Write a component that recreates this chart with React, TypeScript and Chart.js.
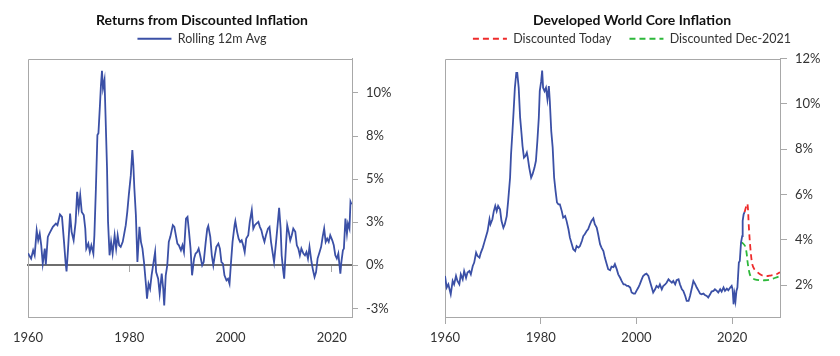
import React, { useEffect, useRef } from 'react';
import { Chart, registerables } from 'chart.js';
Chart.register(...registerables);

const FONT = "Lato, 'Open Sans', sans-serif";
const BLUE = '#3b50a6';
const RED = '#ee2b2b';
const GREEN = '#2db83a';
const GRID = '#a8a8a8';
const TEXT = '#333333';

// ---- Left chart: Returns from Discounted Inflation ----
const returnYears = [
  1960.0, 1960.2, 1960.6, 1961.0, 1961.3, 1961.7, 1962.0, 1962.3, 1962.6, 1962.9,
  1963.3, 1963.5, 1963.9, 1964.2, 1964.9, 1965.5, 1965.8, 1966.3, 1966.7, 1967.1,
  1967.4, 1967.6, 1967.9, 1968.3, 1968.6, 1969.0, 1969.4, 1969.7, 1970.0, 1970.3,
  1970.6, 1971.0, 1971.3, 1971.5, 1971.9, 1972.2, 1972.5, 1972.9, 1973.1, 1973.4,
  1973.7, 1973.9, 1974.2, 1974.4, 1974.6, 1974.8, 1975.1, 1975.3, 1975.6, 1975.8,
  1976.1, 1976.4, 1976.7, 1977.1, 1977.4, 1977.7, 1978.0, 1978.3, 1978.7, 1979.0,
  1979.3, 1979.6, 1979.9, 1980.3, 1980.6, 1980.8, 1981.0, 1981.3, 1981.6, 1982.0,
  1982.3, 1982.6, 1982.9, 1983.3, 1983.5, 1983.8, 1984.1, 1984.4, 1984.7, 1985.1,
  1985.3, 1985.7, 1986.0, 1986.4, 1986.7, 1986.9, 1987.2, 1987.5, 1987.8, 1988.1,
  1988.6, 1988.9, 1989.2, 1989.5, 1989.8, 1990.2, 1990.5, 1990.8, 1991.2, 1991.5,
  1991.8, 1992.1, 1992.4, 1992.8, 1993.1, 1993.4, 1993.7, 1994.0, 1994.4, 1994.7,
  1995.1, 1995.4, 1995.6, 1996.0, 1996.3, 1996.6, 1996.9, 1997.2, 1997.6, 1997.9,
  1998.2, 1998.5, 1998.8, 1999.2, 1999.5, 1999.8, 2000.1, 2000.4, 2000.8, 2000.95,
  2001.3, 2001.6, 2001.9, 2002.2, 2002.5, 2002.8, 2003.1, 2003.5, 2003.8, 2004.2,
  2004.5, 2004.8, 2005.1, 2005.5, 2005.8, 2006.1, 2006.4, 2006.7, 2007.0, 2007.4,
  2007.7, 2008.0, 2008.3, 2008.6, 2009.0, 2009.3, 2009.6, 2009.9, 2010.1, 2010.4,
  2010.6, 2011.0, 2011.2, 2011.5, 2011.8, 2012.1, 2012.4, 2012.8, 2013.1, 2013.4,
  2013.7, 2014.0, 2014.4, 2014.7, 2015.0, 2015.3, 2015.6, 2016.0, 2016.3, 2016.6,
  2016.9, 2017.2, 2017.6, 2017.9, 2018.2, 2018.5, 2018.8, 2019.1, 2019.4, 2019.7,
  2020.1, 2020.4, 2020.7, 2021.0, 2021.3, 2021.7, 2021.9, 2022.2, 2022.4, 2022.7,
  2023.0, 2023.2, 2023.5, 2023.7, 2023.9,
];
const returnValues = [
  0.70, 0.58, 0.39, 0.87, 0.58, 2.03, 1.45, 1.84, 1.16, 0.10,
  0.97, 0.04, 1.65, 1.84, 2.23, 2.42, 2.33, 2.95, 2.81, 1.36,
  0.19, -0.35, 0.97, 3.00, 1.94, 1.45, 2.52, 4.26, 3.29, 4.07,
  3.10, 2.91, 2.13, 0.97, 1.26, 0.77, 1.16, 0.68, 1.74, 4.46,
  7.56, 7.66, 9.30, 10.47, 11.28, 10.27, 10.76, 8.72, 5.62, 2.52,
  0.58, 1.36, 0.68, 1.74, 0.97, 1.74, 1.16, 1.07, 1.36, 1.84,
  2.33, 3.10, 4.07, 5.23, 6.69, 5.81, 4.46, 2.91, 0.19, 2.23,
  1.36, 0.97, 0.19, -1.16, -1.94, -1.07, -1.36, -0.58, 0.00, 0.77,
  -0.39, -0.78, -1.65, -0.48, -1.36, -2.33, -0.58, 0.00, 1.36, 1.65,
  2.33, 2.23, 1.74, 1.26, 1.16, 0.87, 1.16, 0.77, 2.71, 2.81,
  1.94, 0.97, -0.58, 0.39, 0.68, 0.77, 0.97, 0.58, 0.00, 0.19,
  1.36, 2.13, 2.29, 1.65, 0.58, 0.00, 0.58, 1.07, 1.26, 0.97,
  0.19, 0.10, -0.58, -0.87, -0.78, -1.07, 0.19, 1.36, 2.33, 2.56,
  1.94, 1.55, 1.36, 1.45, 1.16, 0.77, 1.55, 1.74, 2.52, 3.20,
  2.13, 2.33, 2.42, 2.52, 2.23, 2.03, 1.65, 1.36, 1.74, 2.13,
  2.23, 1.36, 0.77, 0.19, 1.36, 2.33, 3.33, 2.13, 0.58, -0.29,
  -0.78, 1.36, 2.33, 1.94, 1.45, 1.74, 2.13, 1.94, 1.16, 0.97,
  0.58, 0.97, 0.68, 0.58, 0.77, 0.39, 1.07, 0.19, -0.29, -0.68,
  -0.39, 0.39, 0.77, 1.07, 1.65, 2.13, 1.36, 1.55, 1.36, 1.74,
  1.45, 1.16, 0.58, 0.39, 0.68, -0.48, 0.19, 0.87, 0.97, 2.71,
  1.84, 2.42, 2.13, 3.68, 3.53,
];
const returnTickValues = [-2.5, 0, 2.5, 5, 7.5, 10];
const returnTickLabels = ['-3%', '0%', '3%', '5%', '8%', '10%'];

// ---- Right chart: Developed World Core Inflation ----
const coreYears = [
  1960.0, 1960.35, 1960.7, 1961.2, 1961.6, 1961.9, 1962.3, 1962.6, 1963.0, 1963.3,
  1963.7, 1964.0, 1964.4, 1964.7, 1965.1, 1965.4, 1965.8, 1966.1, 1966.5, 1966.8,
  1967.2, 1967.5, 1967.9, 1968.2, 1968.6, 1968.9, 1969.3, 1969.5, 1969.9, 1970.2,
  1970.5, 1970.8, 1971.1, 1971.5, 1971.8, 1972.2, 1972.5, 1972.9, 1973.2, 1973.6,
  1973.8, 1974.1, 1974.3, 1974.6, 1974.9, 1975.1, 1975.4, 1975.7, 1976.0, 1976.2,
  1976.5, 1976.8, 1977.1, 1977.3, 1977.6, 1978.0, 1978.3, 1978.7, 1979.0, 1979.3,
  1979.6, 1979.8, 1980.1, 1980.3, 1980.5, 1980.8, 1981.1, 1981.4, 1981.7, 1981.9,
  1982.2, 1982.5, 1982.8, 1983.1, 1983.4, 1983.7, 1984.0, 1984.4, 1984.7, 1985.1,
  1985.4, 1985.8, 1986.1, 1986.5, 1986.8, 1987.2, 1987.5, 1987.9, 1988.2, 1988.6,
  1988.9, 1989.2, 1989.6, 1989.9, 1990.3, 1990.6, 1991.0, 1991.3, 1991.7, 1992.0,
  1992.4, 1992.7, 1993.1, 1993.4, 1993.8, 1994.1, 1994.5, 1994.8, 1995.2, 1995.5,
  1995.9, 1996.2, 1996.6, 1996.9, 1997.3, 1997.6, 1998.0, 1998.3, 1998.7, 1999.0,
  1999.4, 1999.7, 2000.0, 2000.4, 2000.7, 2001.1, 2001.4, 2001.8, 2002.1, 2002.5,
  2002.8, 2003.2, 2003.5, 2003.9, 2004.2, 2004.6, 2004.9, 2005.3, 2005.6, 2006.0,
  2006.3, 2006.7, 2007.0, 2007.4, 2007.7, 2008.1, 2008.4, 2008.8, 2009.1, 2009.5,
  2009.8, 2010.2, 2010.5, 2010.9, 2011.2, 2011.6, 2011.9, 2012.3, 2012.6, 2013.0,
  2013.3, 2013.6, 2014.0, 2014.3, 2014.7, 2015.0, 2015.4, 2015.7, 2016.1, 2016.4,
  2016.8, 2017.1, 2017.5, 2017.8, 2018.2, 2018.5, 2018.9, 2019.2, 2019.6, 2019.9,
  2020.1, 2020.3, 2020.5, 2020.7, 2020.9, 2021.1, 2021.4, 2021.6, 2021.85, 2022.1,
  2022.2, 2022.4, 2022.6,
];
const coreValues = [
  2.41, 1.90, 2.04, 1.60, 2.19, 2.04, 2.41, 2.19, 2.04, 2.48,
  2.26, 2.63, 2.33, 2.56, 2.63, 2.48, 2.85, 3.00, 3.44, 3.29,
  3.22, 3.44, 3.66, 3.88, 4.17, 4.39, 4.91, 4.69, 4.91, 5.27,
  5.50, 5.27, 5.50, 5.35, 4.84, 4.54, 4.69, 5.05, 5.72, 6.75,
  7.78, 8.80, 9.54, 10.71, 11.37, 11.37, 10.71, 9.39, 8.66, 8.14,
  7.63, 7.70, 7.85, 7.63, 7.19, 6.75, 6.90, 7.19, 7.49, 8.36,
  9.39, 10.56, 11.00, 11.47, 10.71, 10.56, 10.71, 10.20, 10.78, 10.12,
  8.80, 8.07, 6.75, 6.16, 5.65, 5.57, 5.57, 5.27, 4.98, 5.05,
  4.84, 4.47, 4.10, 3.81, 3.59, 3.51, 3.73, 3.66, 3.73, 3.95,
  4.17, 4.25, 4.39, 4.47, 4.69, 4.84, 4.95, 4.69, 4.54, 4.25,
  3.81, 3.66, 3.51, 3.22, 2.93, 2.71, 2.66, 2.82, 2.80, 2.93,
  2.70, 2.48, 2.33, 2.19, 2.04, 2.04, 1.97, 1.97, 1.90, 1.68,
  1.63, 1.63, 1.75, 1.90, 2.04, 2.26, 2.41, 2.48, 2.51, 2.41,
  2.19, 1.90, 1.68, 1.82, 1.97, 1.90, 2.04, 1.82, 1.97, 2.04,
  2.11, 2.26, 2.19, 2.11, 2.19, 2.04, 2.22, 2.26, 2.04, 1.82,
  1.75, 1.53, 1.31, 1.31, 1.53, 1.90, 2.19, 2.04, 1.90, 1.75,
  1.63, 1.60, 1.63, 1.57, 1.53, 1.46, 1.60, 1.72, 1.75, 1.82,
  1.75, 1.68, 1.82, 1.72, 1.90, 1.75, 1.85, 1.78, 1.90, 1.97,
  1.82, 1.16, 1.60, 1.31, 1.75, 1.90, 3.00, 3.07, 3.88, 4.17,
  4.84, 5.13, 5.22,
];
const todayYears = [2022.6, 2022.9, 2023.2, 2023.5, 2023.8, 2024.2, 2024.6, 2025.0, 2026.1, 2027.1, 2028.2, 2029.2, 2030.0];
const todayValues = [5.22, 5.45, 5.60, 4.54, 3.66, 2.93, 2.72, 2.63, 2.45, 2.40, 2.44, 2.48, 2.57];
const dec21Years = [2021.85, 2022.2, 2022.7, 2023.0, 2023.2, 2023.4, 2023.7, 2024.1, 2024.7, 2025.8, 2026.8, 2027.9, 2028.9, 2030.0];
const dec21Values = [3.88, 3.86, 3.73, 3.45, 3.07, 2.78, 2.48, 2.33, 2.26, 2.22, 2.22, 2.25, 2.32, 2.40];
const coreTickValues = [2, 4, 6, 8, 10, 12];
const coreTickLabels = ['2%', '4%', '6%', '8%', '10%', '12%'];

const yearTicks = [1960, 1980, 2000, 2020];

const toPoints = (xs: number[], ys: number[]) => xs.map((x, i) => ({ x, y: ys[i] }));

const framePlugin = {
  id: 'frame',
  beforeDatasetsDraw(chart: any) {
    const { ctx, chartArea } = chart;
    const { left, top, right, bottom } = chartArea;
    ctx.save();
    ctx.strokeStyle = GRID;
    ctx.lineWidth = 1;
    ctx.beginPath();
    ctx.moveTo(Math.round(left) + 0.5, bottom);
    ctx.lineTo(Math.round(left) + 0.5, Math.round(top) + 0.5);
    ctx.lineTo(right, Math.round(top) + 0.5);
    ctx.stroke();
    ctx.restore();
  },
};

const tickFont = { family: FONT, size: 13 };

function setTicks(values: number[]) {
  return (s: any) => {
    s.ticks = values.map((v) => ({ value: v }));
  };
}

function spacerAxis(position: string, size: number) {
  const horizontal = position === 'top' || position === 'bottom';
  return {
    type: 'linear',
    position,
    afterFit: (s: any) => {
      if (horizontal) s.height = size;
      else s.width = size;
    },
    grid: { display: false, drawTicks: false },
    border: { display: false },
    ticks: { display: false },
  };
}

function titleOpts(text: string) {
  return {
    display: true,
    text,
    color: '#111111',
    font: { family: FONT, size: 14, weight: 'bold' as const },
    padding: { top: 12, bottom: -14.3 },
  };
}

function legendOpts(hidden: number[]) {
  return {
    display: true,
    labels: {
      usePointStyle: true,
      pointStyle: 'line' as const,
      pointStyleWidth: 34,
      padding: 18,
      color: TEXT,
      font: { family: FONT, size: 12.5 },
      generateLabels: (chart: any) => {
        const items = (Chart.defaults.plugins.legend.labels as any).generateLabels(chart);
        return items
          .filter((it: any) => hidden.indexOf(it.datasetIndex) < 0)
          .map((it: any) => {
            const ds = chart.data.datasets[it.datasetIndex];
            return {
              ...it,
              lineDash: ds.borderDash || [],
              strokeStyle: ds.borderColor,
              fillStyle: ds.borderColor,
              lineWidth: 2,
              pointStyle: 'line',
            };
          });
      },
    },
  };
}

export default function App() {
  const leftRef = useRef<HTMLCanvasElement>(null);
  const rightRef = useRef<HTMLCanvasElement>(null);

  useEffect(() => {
    const left = new Chart(leftRef.current as HTMLCanvasElement, {
      type: 'line',
      data: {
        datasets: [
          {
            label: 'Rolling 12m Avg',
            data: toPoints(returnYears, returnValues),
            borderColor: BLUE,
            backgroundColor: BLUE,
            borderWidth: 1.8,
            pointRadius: 0,
            tension: 0,
            xAxisID: 'x',
            yAxisID: 'y',
          },
        ],
      },
      options: {
        responsive: false,
        animation: false,
        layout: { padding: { left: 12, right: 18, top: 0, bottom: 0 } },
        plugins: {
          title: titleOpts('Returns from Discounted Inflation'),
          legend: legendOpts([]),
          tooltip: { enabled: false },
        },
        scales: {
          x: {
            type: 'linear',
            position: 'bottom',
            min: 1960,
            max: 2024,
            afterBuildTicks: setTicks(yearTicks),
            afterFit: (s: any) => { s.height = 39; },
            grid: { display: false, drawTicks: false },
            border: { display: true, color: GRID },
            ticks: { padding: 13, color: TEXT, font: tickFont, maxRotation: 0, callback: (v: any) => String(v) },
          },
          x0: {
            type: 'linear',
            position: { y: 0 },
            min: 1960,
            max: 2024,
            afterBuildTicks: setTicks(yearTicks),
            grid: { display: true, drawOnChartArea: false, drawTicks: true, tickLength: 6, color: GRID },
            border: { display: true, color: '#6e6e6e', width: 2 },
            ticks: { display: false },
          },
          xTop: spacerAxis('top', 3.5),
          yPad: spacerAxis('left', 6),
          y: {
            type: 'linear',
            position: 'right',
            min: -3,
            max: 12,
            afterBuildTicks: setTicks(returnTickValues),
            afterFit: (s: any) => { s.width = 40; },
            grid: { drawOnChartArea: false, drawTicks: true, tickLength: 6, color: GRID },
            border: { display: true, color: GRID },
            ticks: {
              padding: 8,
              color: TEXT,
              font: tickFont,
              callback: (v: any) => returnTickLabels[returnTickValues.indexOf(Number(v))],
            },
          },
        },
      } as any,
      plugins: [framePlugin],
    });

    const right = new Chart(rightRef.current as HTMLCanvasElement, {
      type: 'line',
      data: {
        datasets: [
          {
            label: 'Core Inflation',
            data: toPoints(coreYears, coreValues),
            borderColor: BLUE,
            backgroundColor: BLUE,
            borderWidth: 1.8,
            pointRadius: 0,
            tension: 0,
            xAxisID: 'x',
            yAxisID: 'y',
          },
          {
            label: 'Discounted Today',
            data: toPoints(todayYears, todayValues),
            borderColor: RED,
            backgroundColor: RED,
            borderWidth: 1.8,
            borderDash: [6, 4],
            pointRadius: 0,
            tension: 0.35,
            xAxisID: 'x',
            yAxisID: 'y',
          },
          {
            label: 'Discounted Dec-2021',
            data: toPoints(dec21Years, dec21Values),
            borderColor: GREEN,
            backgroundColor: GREEN,
            borderWidth: 1.8,
            borderDash: [6, 4],
            pointRadius: 0,
            tension: 0.35,
            xAxisID: 'x',
            yAxisID: 'y',
          },
        ],
      },
      options: {
        responsive: false,
        animation: false,
        layout: { padding: { left: 22, right: 18, top: 0, bottom: 0 } },
        plugins: {
          title: titleOpts('Developed World Core Inflation'),
          legend: legendOpts([0]),
          tooltip: { enabled: false },
        },
        scales: {
          x: {
            type: 'linear',
            position: 'bottom',
            min: 1960,
            max: 2030,
            afterBuildTicks: setTicks(yearTicks),
            afterFit: (s: any) => { s.height = 39; },
            grid: { display: true, drawOnChartArea: false, drawTicks: true, tickLength: 7, color: GRID },
            border: { display: true, color: GRID },
            ticks: { padding: 6, color: TEXT, font: tickFont, maxRotation: 0, callback: (v: any) => String(v) },
          },
          xTop: spacerAxis('top', 3.5),
          yPad: spacerAxis('left', 3),
          y: {
            type: 'linear',
            position: 'right',
            min: 0.6,
            max: 12,
            afterBuildTicks: setTicks(coreTickValues),
            afterFit: (s: any) => { s.width = 42; },
            grid: { drawOnChartArea: false, drawTicks: true, tickLength: 7, color: GRID },
            border: { display: true, color: GRID },
            ticks: {
              padding: 8,
              color: TEXT,
              font: tickFont,
              callback: (v: any) => coreTickLabels[coreTickValues.indexOf(Number(v))],
            },
          },
        },
      } as any,
      plugins: [framePlugin],
    });

    return () => {
      left.destroy();
      right.destroy();
    };
  }, []);

  return (
    <div style={{ position: 'fixed', left: 0, top: 0, width: 840, height: 356, background: '#ffffff' }}>
      <canvas
        ref={leftRef}
        width={410}
        height={356}
        style={{ position: 'absolute', left: 0, top: 0, width: 410, height: 356 }}
      />
      <canvas
        ref={rightRef}
        width={420}
        height={356}
        style={{ position: 'absolute', left: 420, top: 0, width: 420, height: 356 }}
      />
    </div>
  );
}
